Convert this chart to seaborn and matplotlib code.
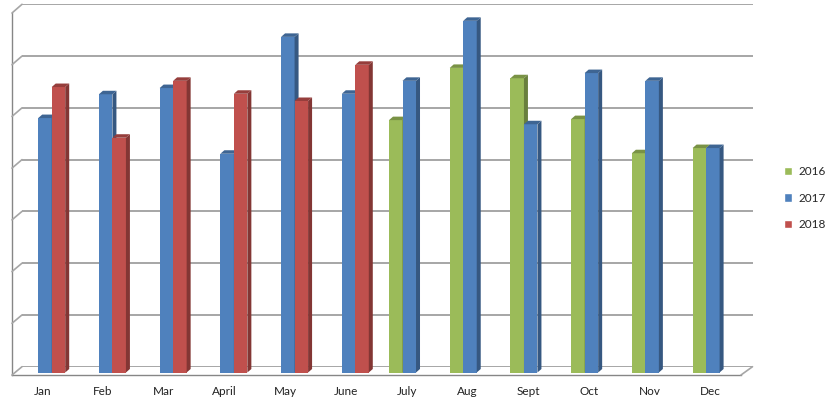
import pandas as pd
import seaborn as sns
import matplotlib.pyplot as plt
from matplotlib.patches import Polygon, Patch
from matplotlib.lines import Line2D
from matplotlib.transforms import IdentityTransform
import matplotlib.colors as mcolors

# data (gridline step = 10)
months = ["Jan", "Feb", "Mar", "April", "May", "June",
          "July", "Aug", "Sept", "Oct", "Nov", "Dec"]
years = ["2016", "2017", "2018"]
months_2016 = months[6:]
sales_2016 = [48.8, 58.9, 56.9, 49.0, 42.4, 43.4]
months_2017 = months
sales_2017 = [49.2, 53.8, 55.0, 42.3, 64.9, 53.9, 56.4, 68.0, 48.0, 57.9, 56.4, 43.4]
months_2018 = months[:6]
sales_2018 = [55.2, 45.4, 56.4, 53.9, 52.5, 59.5]
grid_ticks = [0, 10, 20, 30, 40, 50, 60, 70]

colors = {"2016": "#9BBB59", "2017": "#4F81BD", "2018": "#C0504D"}

rows = []
for yr, ms, vals in [("2016", months_2016, sales_2016),
                     ("2017", months_2017, sales_2017),
                     ("2018", months_2018, sales_2018)]:
    for m, v in zip(ms, vals):
        rows.append({"month": m, "year": yr, "sales": v})
df = pd.DataFrame(rows)

sns.set_style("white")
plt.rcParams["font.family"] = ["Lato", "DejaVu Sans"]

W, H = 827, 404
fig = plt.figure(figsize=(W / 100, H / 100), dpi=100)


def box(left, top, right, bottom):
    return [left / W, 1 - bottom / H, (right - left) / W, (bottom - top) / H]


grid_col = "#A6A6A6"
axis_col = "#868686"
ymax = grid_ticks[-1]

# back wall with the gridlines
ax_wall = fig.add_axes(box(22, 4.3, 752.5, 366.7))
ax_wall.set_xlim(0, 1)
ax_wall.set_ylim(0, ymax)
for v in grid_ticks:
    ax_wall.axhline(v, color=grid_col, lw=1.4)
ax_wall.axis("off")

# front frame: value axis line + category axis
ax_front = fig.add_axes(box(12, 13, 741, 375))
ax_front.patch.set_alpha(0)
ax_front.set_xlim(-0.5, len(months) - 0.5)
ax_front.set_ylim(0, ymax)
for s in ["top", "right"]:
    ax_front.spines[s].set_visible(False)
for s in ["left", "bottom"]:
    ax_front.spines[s].set_color(axis_col)
    ax_front.spines[s].set_linewidth(1.0)
ax_front.set_yticks(grid_ticks)
ax_front.set_yticklabels([])
ax_front.set_xticks(range(len(months)))
ax_front.set_xticklabels(months, fontsize=8.5, color="#222222")
ax_front.set_xticks([i - 0.5 for i in range(len(months) + 1)], minor=True)
ax_front.tick_params(axis="x", which="major", length=0, pad=8)
ax_front.tick_params(axis="x", which="minor", length=4, color=axis_col, direction="out")
ax_front.tick_params(axis="y", length=3, color=axis_col, direction="out")

# depth lines joining the front axis with the back wall
for v in grid_ticks:
    p0 = ax_front.transData.transform((-0.5, v))
    p1 = ax_wall.transAxes.transform((0, v / ymax))
    fig.add_artist(Line2D([p0[0], p1[0]], [p0[1], p1[1]], color=grid_col, lw=1.2,
                          transform=IdentityTransform()))
p0 = ax_front.transData.transform((len(months) - 0.5, 0))
p1 = ax_wall.transAxes.transform((1, 0))
fig.add_artist(Line2D([p0[0], p1[0]], [p0[1], p1[1]], color=grid_col, lw=1.2,
                      transform=IdentityTransform()))

# bars, sitting half way into the depth
ax = fig.add_axes(box(14.6, 10.5, 743.2, 372.5))
ax.patch.set_alpha(0)
sns.barplot(data=df, x="month", y="sales", hue="year", order=months, hue_order=years,
            palette=colors, saturation=1, width=0.667, errorbar=None, legend=False,
            linewidth=0, ax=ax)
ax.set_xlim(-0.5, len(months) - 0.5)
ax.set_ylim(0, ymax)
ax.axis("off")

# fake 3d side and top faces
dx, dy = 4, 3.5
for cont in ax.containers:
    for bar in cont:
        h = bar.get_height()
        if not h == h or h == 0:
            continue
        x0 = bar.get_x()
        x1 = x0 + bar.get_width()
        z = 2 + x0 * 0.1
        bar.set_zorder(z)
        rgb = mcolors.to_rgb(bar.get_facecolor())
        side = tuple(c * 0.68 for c in rgb)
        top = tuple(c * 0.78 for c in rgb)
        a = ax.transData.transform((x0, 0))
        b = ax.transData.transform((x1, h))
        xa, ya, xb, yb = a[0], a[1], b[0], b[1]
        side_poly = Polygon([(xb, ya), (xb + dx, ya + dy), (xb + dx, yb + dy), (xb, yb)],
                            closed=True, facecolor=side, edgecolor="none",
                            transform=IdentityTransform(), clip_on=False, zorder=z + 0.01)
        top_poly = Polygon([(xa, yb), (xa + dx, yb + dy), (xb + dx, yb + dy), (xb, yb)],
                           closed=True, facecolor=top, edgecolor="none",
                           transform=IdentityTransform(), clip_on=False, zorder=z + 0.01)
        ax.add_artist(side_poly)
        ax.add_artist(top_poly)

handles = [Patch(facecolor=colors[y], label=y) for y in years]
fig.legend(handles=handles, loc="center left", bbox_to_anchor=(784 / W, 1 - 198 / H),
           frameon=False, borderpad=0, borderaxespad=0, handlelength=0.7,
           handleheight=0.7, handletextpad=0.5, labelspacing=1.3, fontsize=8.5)

fig.savefig("out.png", dpi=100)
